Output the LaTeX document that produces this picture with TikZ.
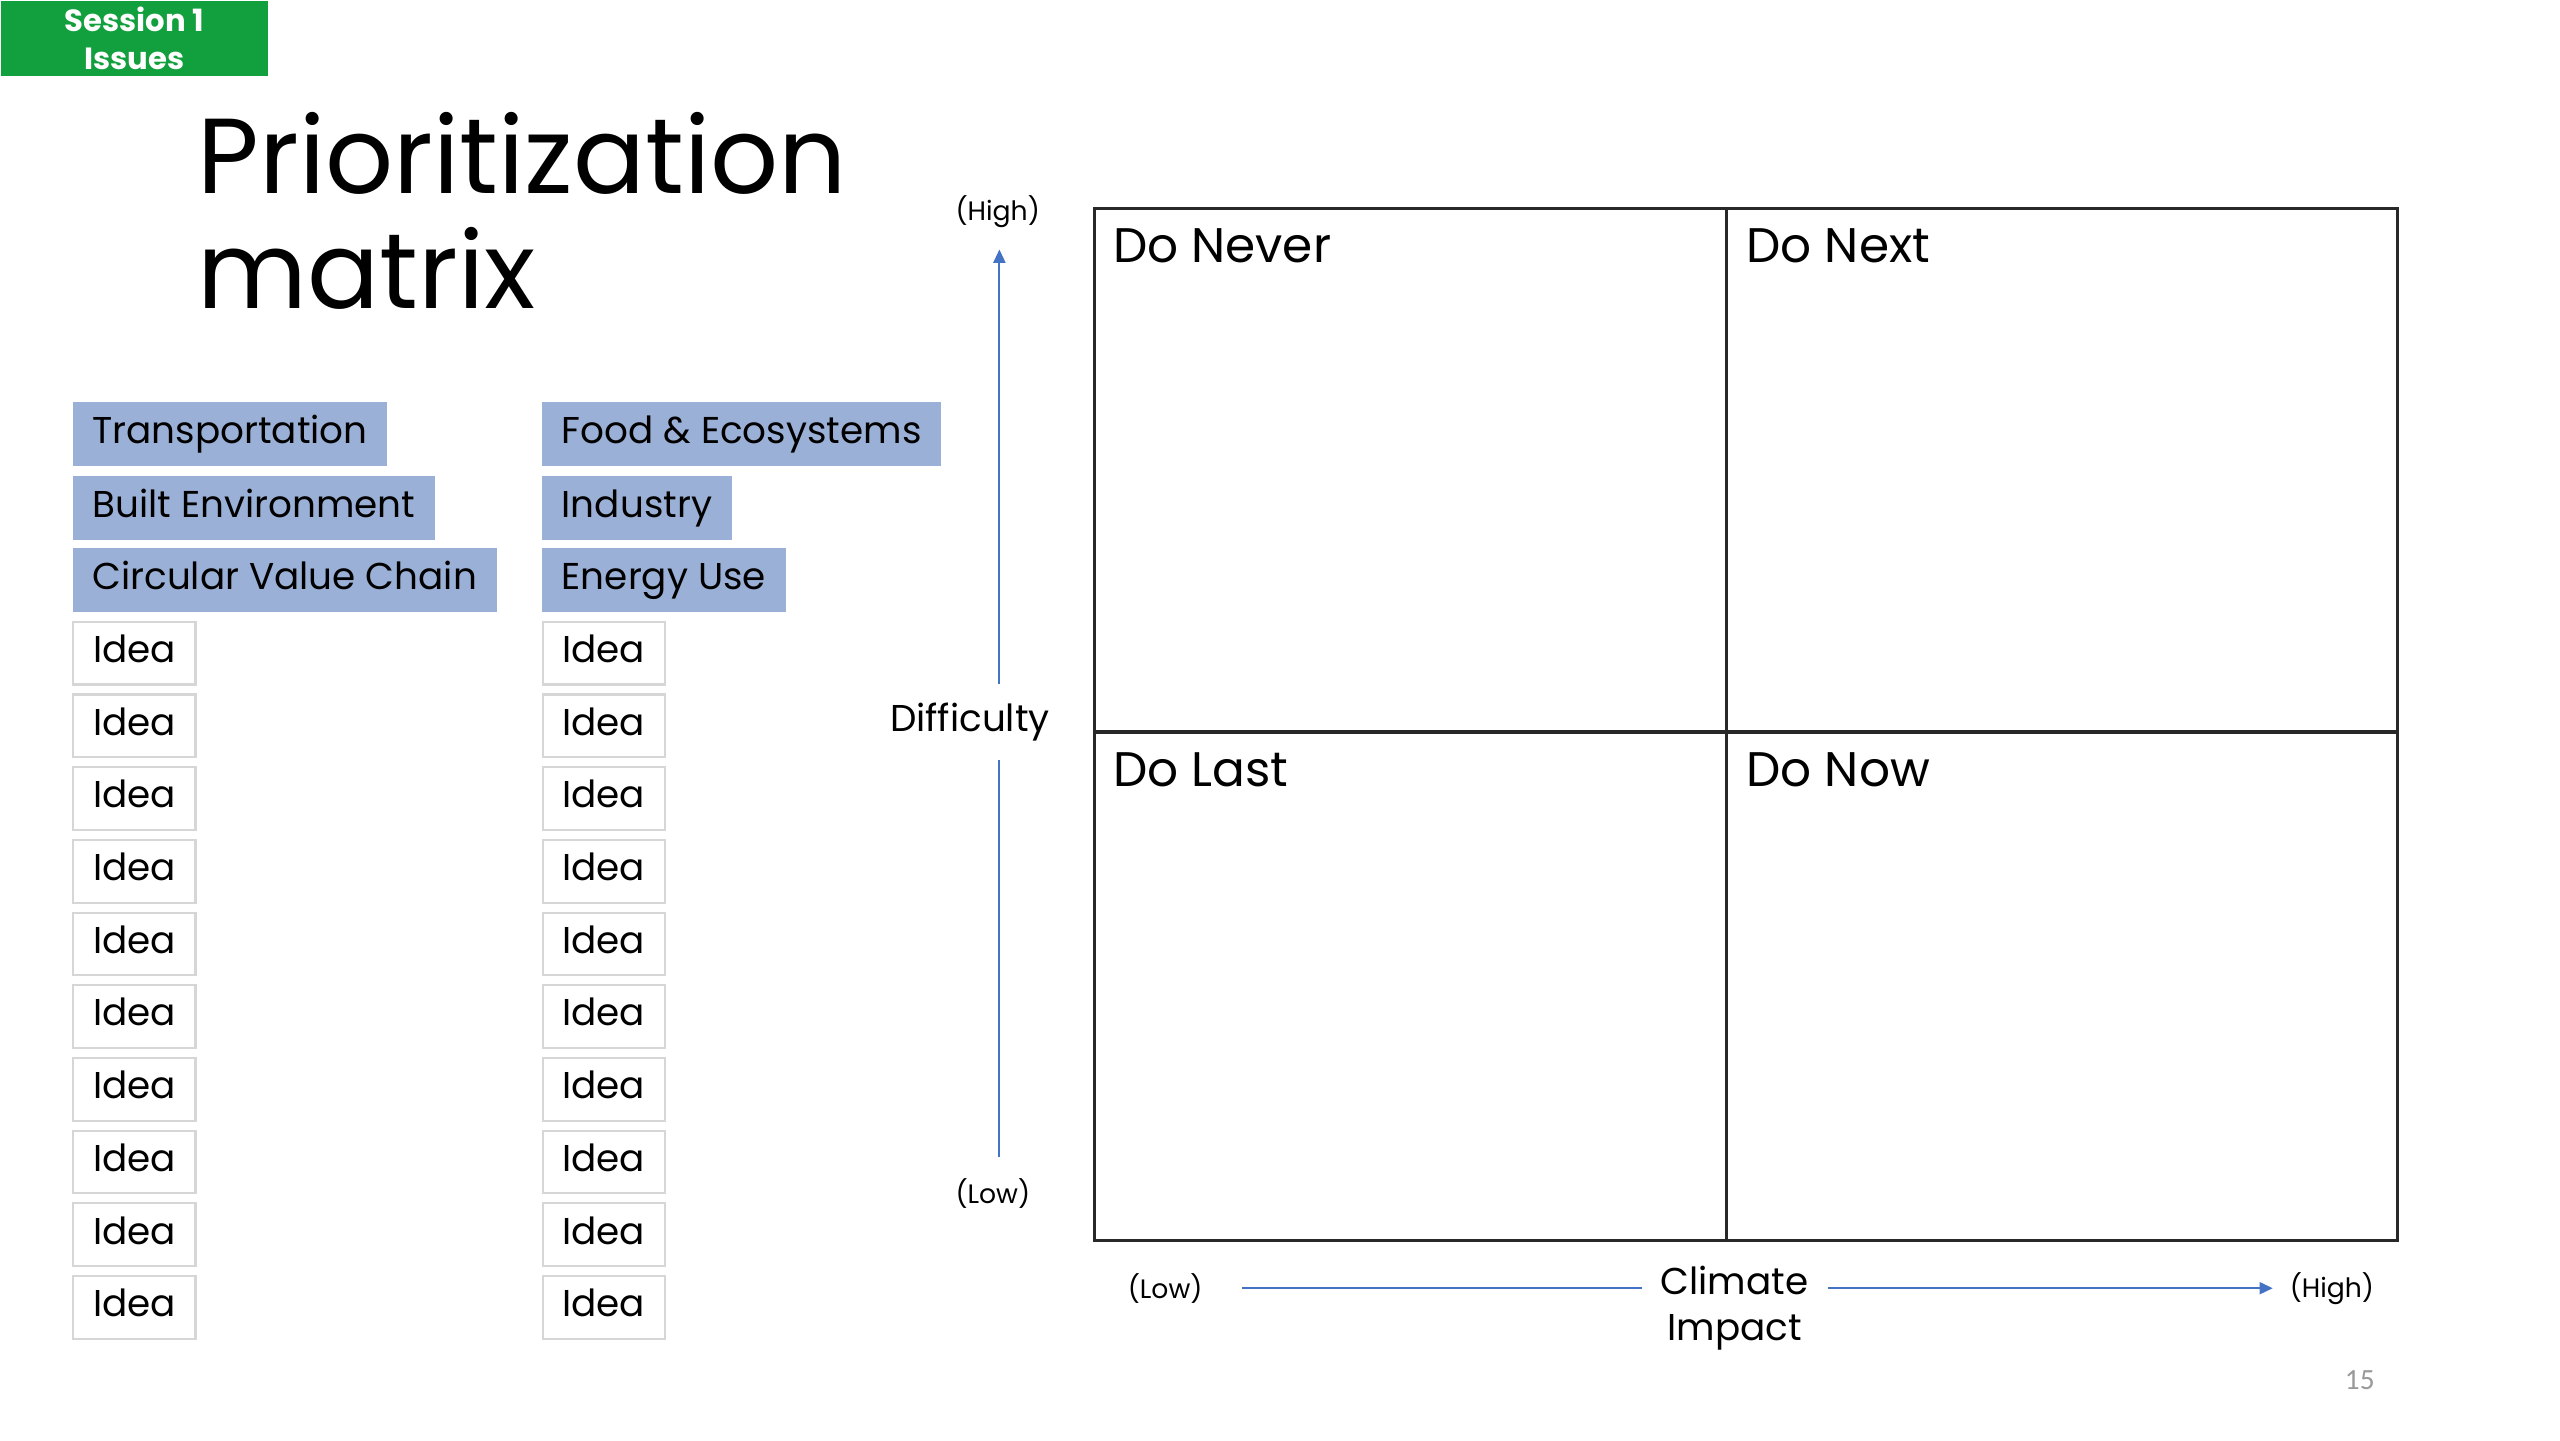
\documentclass[tikz,border=0pt]{standalone}
\usepackage{fontspec}
\setmainfont{Poppins}
\newfontfamily\pagefont{Carlito}
\usetikzlibrary{arrows.meta}
\definecolor{catblue}{RGB}{154,176,214}
\definecolor{sessgreen}{RGB}{18,160,62}
\definecolor{axisblue}{RGB}{68,114,196}
\definecolor{ideagray}{RGB}{214,214,214}
\definecolor{gridline}{RGB}{40,40,40}
\begin{document}
\begin{tikzpicture}[x=0.6154pt,y=-0.6154pt,
  catbox/.style={anchor=west,fill=catblue,minimum height=24pt,inner xsep=7.4pt,inner ysep=0pt,
    font=\fontsize{14}{16}\selectfont,text height=7pt,text depth=0pt},
  ideabox/.style={anchor=west,fill=white,draw=ideagray,line width=0.8pt,minimum height=23.5pt,inner xsep=7.4pt,inner ysep=0pt,
    font=\fontsize{14}{16}\selectfont,text height=7pt,text depth=0pt},
  quadlabel/.style={anchor=base west,font=\fontsize{18.2}{22}\selectfont,inner sep=0pt},
  smalllabel/.style={font=\fontsize{10}{12}\selectfont,inner sep=0pt},
  axislabel/.style={font=\fontsize{14}{17.2}\selectfont,align=center},
  axisline/.style={draw=axisblue,line width=0.8pt},
  axisarrow/.style={axisline,-{Triangle[length=5pt,width=4.5pt]}}]
\useasboundingbox (0,0) rectangle (1560,877.5);
% session tag
\node[anchor=north west,fill=sessgreen,minimum width=100.3pt,minimum height=28.3pt,inner sep=0pt,
  text=white,font=\bfseries\fontsize{11.5}{14}\selectfont,align=center] (sess) at (0,0) {Session 1\\Issues};
% title
\node[anchor=base west,inner sep=0pt,font=\fontsize{40}{44}\selectfont] (title1) at (120,118) {Prioritization};
\node[anchor=base west,inner sep=0pt,font=\fontsize{40}{44}\selectfont] (title2) at (120,188) {matrix};
% categories
\node[catbox] (c1) at (44,264.5) {Transportation};
\node[catbox] (c2) at (44,309.5) {Built Environment};
\node[catbox] (c3) at (44,353.5) {Circular Value Chain};
\node[catbox] (c4) at (330,264.5) {Food \& Ecosystems};
\node[catbox] (c5) at (330,309.5) {Industry};
\node[catbox] (c6) at (330,353.5) {Energy Use};
% ideas
\foreach \i in {0,...,9}{
  \node[ideabox] (l\i) at (44,{398+44.3*\i}) {Idea};
  \node[ideabox] (r\i) at (330,{398+44.3*\i}) {Idea};
}
% matrix
\node[draw=gridline,line width=1.2pt,minimum width=488.6pt,minimum height=387.1pt,inner sep=0pt,anchor=north west] (mx) at (666,126) {};
\coordinate (vt) at (1052,126);
\coordinate (vb) at (1052,755);
\coordinate (hl) at (666,446);
\coordinate (hr) at (1460,446);
\draw[gridline,line width=1.2pt] (vt) -- (vb);
\draw[gridline,line width=1.2pt] (hl) -- (hr);
\node[quadlabel] (q1) at (678,160) {Do Never};
\node[quadlabel] (q2) at (1064,160) {Do Next};
\node[quadlabel] (q3) at (678,479) {Do Last};
\node[quadlabel] (q4) at (1064,479) {Do Now};
% vertical axis
\node[smalllabel] (yhigh) at (608,129) {(High)};
\node[smalllabel] (ylow) at (605,727) {(Low)};
\node[axislabel,inner xsep=0pt,inner ysep=7pt] (diff) at (591,440) {Difficulty};
\coordinate (ybot) at (609,705);
\coordinate (ytop) at (609,152);
\draw[axisline] (ybot) -- (ybot |- diff.south);
\draw[axisarrow] (ytop |- diff.north) -- (ytop);
% horizontal axis
\node[smalllabel] (xlow) at (710,785) {(Low)};
\node[smalllabel] (xhigh) at (1421,785) {(High)};
\node[axislabel,inner xsep=7pt,inner ysep=0pt] (clim) at (1057,797) {Climate\\Impact};
\coordinate (xl) at (757,785);
\coordinate (xr) at (1385,785);
\draw[axisline] (xl) -- (clim.west |- xl);
\draw[axisarrow] (clim.east |- xr) -- (xr);
% page number
\node[font=\pagefont\fontsize{11}{13}\selectfont,text=gray!80] (pg) at (1438,841) {15};
\end{tikzpicture}
\end{document}
